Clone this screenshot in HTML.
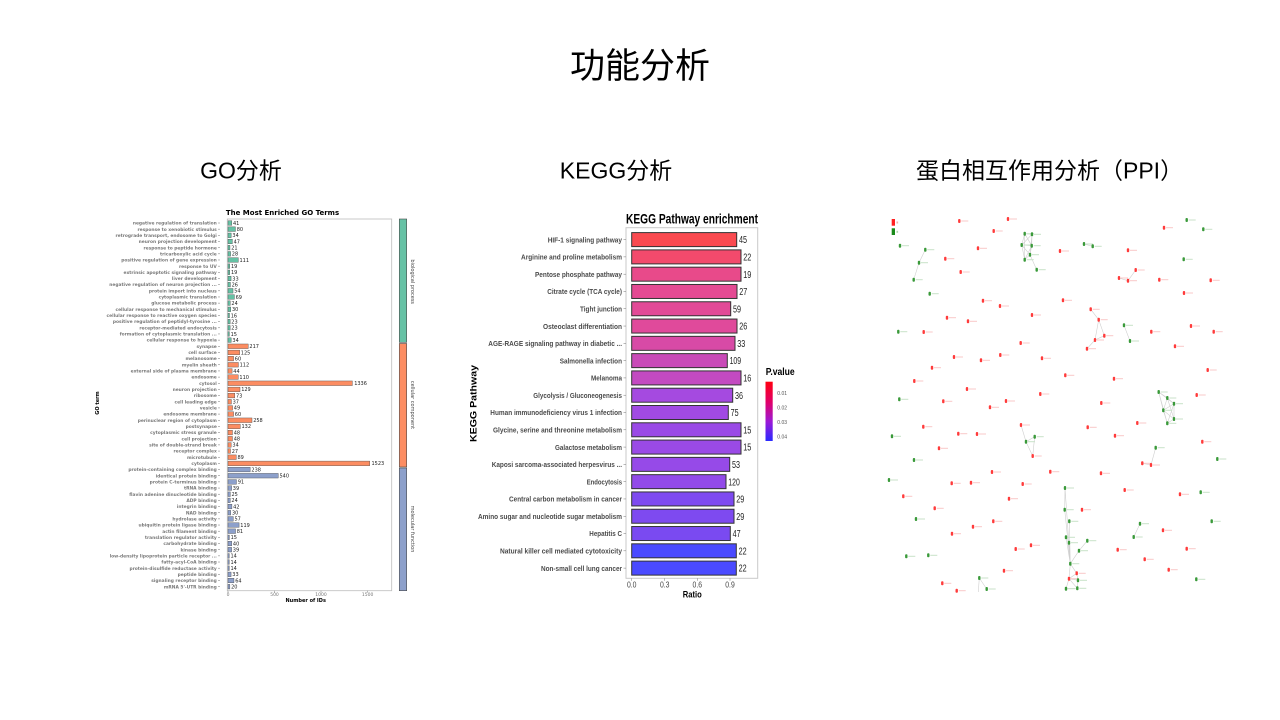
<!DOCTYPE html>
<html><head><meta charset="utf-8"><style>
html,body{margin:0;padding:0;background:#fff;}
body{width:1280px;height:720px;overflow:hidden;}
svg{display:block;}
.cjk{font-family:"Liberation Sans","Noto Sans CJK SC",sans-serif;fill:#000;}
.gl{font-family:"DejaVu Sans","Liberation Sans",sans-serif;font-weight:bold;font-size:4.4px;fill:#7a7a7a;text-anchor:end;}
.gv{font-family:"DejaVu Sans","Liberation Sans",sans-serif;font-size:5px;fill:#222;}
.b1{fill:#66c2a5;stroke:#4a4a4a;stroke-width:0.4;}
.b2{fill:#fc8d62;stroke:#4a4a4a;stroke-width:0.4;}
.b3{fill:#8da0cb;stroke:#4a4a4a;stroke-width:0.4;}
.tk{stroke:#777;stroke-width:0.5;}
.kl{font-family:"Liberation Sans",sans-serif;font-weight:bold;font-size:7.5px;fill:#4a4a4a;text-anchor:end;}
.kv{font-family:"Liberation Sans",sans-serif;font-size:10px;fill:#222;}
.kb{stroke:#333;stroke-width:1;}
.ed{stroke:#cfcfcf;stroke-width:0.6;fill:none;}
</style></head><body>
<svg width="1280" height="720" viewBox="0 0 1280 720" xmlns="http://www.w3.org/2000/svg">
<defs>
<linearGradient id="pg" x1="0" y1="0" x2="0" y2="1">
<stop offset="0" stop-color="#ff0010"/><stop offset="0.35" stop-color="#e0006a"/><stop offset="0.68" stop-color="#9a1ad8"/><stop offset="1" stop-color="#2a2aff"/>
</linearGradient>
<g id="R"><rect x="-1.2" y="-2" width="2.4" height="4" rx="1" fill="#ff3b3b"/><rect x="2" y="-0.5" width="7" height="1" fill="#f8c8c8"/></g>
<g id="G"><rect x="-1.2" y="-2" width="2.4" height="4" rx="1" fill="#3a9a3a"/><rect x="2" y="-0.5" width="7" height="1" fill="#c8e2c8"/></g>
</defs>
<rect width="1280" height="720" fill="#fff"/>

<!-- Titles -->
<text class="cjk" x="640" y="78" font-size="35" text-anchor="middle">功能分析</text>
<text class="cjk" x="241" y="178.5" font-size="23" text-anchor="middle">GO分析</text>
<text class="cjk" x="616" y="178.5" font-size="23" text-anchor="middle">KEGG分析</text>
<text class="cjk" x="916" y="178.5" font-size="23">蛋白相互作用分析（PPI）</text>

<!-- ================= GO chart ================= -->
<text x="282.5" y="215" font-family="DejaVu Sans, Liberation Sans, sans-serif" font-weight="bold" font-size="7" text-anchor="middle" fill="#000">The Most Enriched GO Terms</text>
<rect x="227.3" y="219" width="164.4" height="371.7" fill="none" stroke="#bdbdbd" stroke-width="0.8"/>
<g>
<g transform="translate(0,223)"><text class="gl" x="216.8" y="1.6">negative regulation of translation</text><path class="tk" d="M218 0h2"/><rect class="b1" x="228" y="-2.3" width="3.82" height="4.6"/><text class="gv" x="233" y="1.8">41</text></g>
<g transform="translate(0,229.16)"><text class="gl" x="216.8" y="1.6">response to xenobiotic stimulus</text><path class="tk" d="M218 0h2"/><rect class="b1" x="228" y="-2.3" width="7.45" height="4.6"/><text class="gv" x="236.7" y="1.8">80</text></g>
<g transform="translate(0,235.33)"><text class="gl" x="216.8" y="1.6">retrograde transport, endosome to Golgi</text><path class="tk" d="M218 0h2"/><rect class="b1" x="228" y="-2.3" width="3.17" height="4.6"/><text class="gv" x="232.4" y="1.8">34</text></g>
<g transform="translate(0,241.49)"><text class="gl" x="216.8" y="1.6">neuron projection development</text><path class="tk" d="M218 0h2"/><rect class="b1" x="228" y="-2.3" width="4.38" height="4.6"/><text class="gv" x="233.6" y="1.8">47</text></g>
<g transform="translate(0,247.66)"><text class="gl" x="216.8" y="1.6">response to peptide hormone</text><path class="tk" d="M218 0h2"/><rect class="b1" x="228" y="-2.3" width="1.96" height="4.6"/><text class="gv" x="231.2" y="1.8">21</text></g>
<g transform="translate(0,253.82)"><text class="gl" x="216.8" y="1.6">tricarboxylic acid cycle</text><path class="tk" d="M218 0h2"/><rect class="b1" x="228" y="-2.3" width="2.61" height="4.6"/><text class="gv" x="231.8" y="1.8">28</text></g>
<g transform="translate(0,259.98)"><text class="gl" x="216.8" y="1.6">positive regulation of gene expression</text><path class="tk" d="M218 0h2"/><rect class="b1" x="228" y="-2.3" width="10.33" height="4.6"/><text class="gv" x="239.5" y="1.8">111</text></g>
<g transform="translate(0,266.15)"><text class="gl" x="216.8" y="1.6">response to UV</text><path class="tk" d="M218 0h2"/><rect class="b1" x="228" y="-2.3" width="1.77" height="4.6"/><text class="gv" x="231" y="1.8">19</text></g>
<g transform="translate(0,272.31)"><text class="gl" x="216.8" y="1.6">extrinsic apoptotic signaling pathway</text><path class="tk" d="M218 0h2"/><rect class="b1" x="228" y="-2.3" width="1.77" height="4.6"/><text class="gv" x="231" y="1.8">19</text></g>
<g transform="translate(0,278.48)"><text class="gl" x="216.8" y="1.6">liver development</text><path class="tk" d="M218 0h2"/><rect class="b1" x="228" y="-2.3" width="3.07" height="4.6"/><text class="gv" x="232.3" y="1.8">33</text></g>
<g transform="translate(0,284.64)"><text class="gl" x="216.8" y="1.6">negative regulation of neuron projection ...</text><path class="tk" d="M218 0h2"/><rect class="b1" x="228" y="-2.3" width="2.42" height="4.6"/><text class="gv" x="231.6" y="1.8">26</text></g>
<g transform="translate(0,290.8)"><text class="gl" x="216.8" y="1.6">protein import into nucleus</text><path class="tk" d="M218 0h2"/><rect class="b1" x="228" y="-2.3" width="5.03" height="4.6"/><text class="gv" x="234.2" y="1.8">54</text></g>
<g transform="translate(0,296.97)"><text class="gl" x="216.8" y="1.6">cytoplasmic translation</text><path class="tk" d="M218 0h2"/><rect class="b1" x="228" y="-2.3" width="6.42" height="4.6"/><text class="gv" x="235.6" y="1.8">69</text></g>
<g transform="translate(0,303.13)"><text class="gl" x="216.8" y="1.6">glucose metabolic process</text><path class="tk" d="M218 0h2"/><rect class="b1" x="228" y="-2.3" width="2.23" height="4.6"/><text class="gv" x="231.4" y="1.8">24</text></g>
<g transform="translate(0,309.3)"><text class="gl" x="216.8" y="1.6">cellular response to mechanical stimulus</text><path class="tk" d="M218 0h2"/><rect class="b1" x="228" y="-2.3" width="2.79" height="4.6"/><text class="gv" x="232" y="1.8">30</text></g>
<g transform="translate(0,315.46)"><text class="gl" x="216.8" y="1.6">cellular response to reactive oxygen species</text><path class="tk" d="M218 0h2"/><rect class="b1" x="228" y="-2.3" width="1.49" height="4.6"/><text class="gv" x="230.7" y="1.8">16</text></g>
<g transform="translate(0,321.62)"><text class="gl" x="216.8" y="1.6">positive regulation of peptidyl-tyrosine ...</text><path class="tk" d="M218 0h2"/><rect class="b1" x="228" y="-2.3" width="2.14" height="4.6"/><text class="gv" x="231.3" y="1.8">23</text></g>
<g transform="translate(0,327.79)"><text class="gl" x="216.8" y="1.6">receptor-mediated endocytosis</text><path class="tk" d="M218 0h2"/><rect class="b1" x="228" y="-2.3" width="2.14" height="4.6"/><text class="gv" x="231.3" y="1.8">23</text></g>
<g transform="translate(0,333.95)"><text class="gl" x="216.8" y="1.6">formation of cytoplasmic translation ...</text><path class="tk" d="M218 0h2"/><rect class="b1" x="228" y="-2.3" width="1.4" height="4.6"/><text class="gv" x="230.6" y="1.8">15</text></g>
<g transform="translate(0,340.12)"><text class="gl" x="216.8" y="1.6">cellular response to hypoxia</text><path class="tk" d="M218 0h2"/><rect class="b1" x="228" y="-2.3" width="3.17" height="4.6"/><text class="gv" x="232.4" y="1.8">34</text></g>

<g transform="translate(0,346.28)"><text class="gl" x="216.8" y="1.6">synapse</text><path class="tk" d="M218 0h2"/><rect class="b2" x="228" y="-2.3" width="20.2" height="4.6"/><text class="gv" x="249.4" y="1.8">217</text></g>
<g transform="translate(0,352.44)"><text class="gl" x="216.8" y="1.6">cell surface</text><path class="tk" d="M218 0h2"/><rect class="b2" x="228" y="-2.3" width="11.64" height="4.6"/><text class="gv" x="240.8" y="1.8">125</text></g>
<g transform="translate(0,358.61)"><text class="gl" x="216.8" y="1.6">melanosome</text><path class="tk" d="M218 0h2"/><rect class="b2" x="228" y="-2.3" width="5.59" height="4.6"/><text class="gv" x="234.8" y="1.8">60</text></g>
<g transform="translate(0,364.77)"><text class="gl" x="216.8" y="1.6">myelin sheath</text><path class="tk" d="M218 0h2"/><rect class="b2" x="228" y="-2.3" width="10.43" height="4.6"/><text class="gv" x="239.6" y="1.8">112</text></g>
<g transform="translate(0,370.94)"><text class="gl" x="216.8" y="1.6">external side of plasma membrane</text><path class="tk" d="M218 0h2"/><rect class="b2" x="228" y="-2.3" width="4.1" height="4.6"/><text class="gv" x="233.3" y="1.8">44</text></g>
<g transform="translate(0,377.1)"><text class="gl" x="216.8" y="1.6">endosome</text><path class="tk" d="M218 0h2"/><rect class="b2" x="228" y="-2.3" width="10.24" height="4.6"/><text class="gv" x="239.4" y="1.8">110</text></g>
<g transform="translate(0,383.26)"><text class="gl" x="216.8" y="1.6">cytosol</text><path class="tk" d="M218 0h2"/><rect class="b2" x="228" y="-2.3" width="124.38" height="4.6"/><text class="gv" x="354.2" y="1.8">1336</text></g>
<g transform="translate(0,389.43)"><text class="gl" x="216.8" y="1.6">neuron projection</text><path class="tk" d="M218 0h2"/><rect class="b2" x="228" y="-2.3" width="12.01" height="4.6"/><text class="gv" x="241.2" y="1.8">129</text></g>
<g transform="translate(0,395.59)"><text class="gl" x="216.8" y="1.6">ribosome</text><path class="tk" d="M218 0h2"/><rect class="b2" x="228" y="-2.3" width="6.8" height="4.6"/><text class="gv" x="236" y="1.8">73</text></g>
<g transform="translate(0,401.76)"><text class="gl" x="216.8" y="1.6">cell leading edge</text><path class="tk" d="M218 0h2"/><rect class="b2" x="228" y="-2.3" width="3.44" height="4.6"/><text class="gv" x="232.6" y="1.8">37</text></g>
<g transform="translate(0,407.92)"><text class="gl" x="216.8" y="1.6">vesicle</text><path class="tk" d="M218 0h2"/><rect class="b2" x="228" y="-2.3" width="4.56" height="4.6"/><text class="gv" x="233.8" y="1.8">49</text></g>
<g transform="translate(0,414.08)"><text class="gl" x="216.8" y="1.6">endosome membrane</text><path class="tk" d="M218 0h2"/><rect class="b2" x="228" y="-2.3" width="5.59" height="4.6"/><text class="gv" x="234.8" y="1.8">60</text></g>
<g transform="translate(0,420.25)"><text class="gl" x="216.8" y="1.6">perinuclear region of cytoplasm</text><path class="tk" d="M218 0h2"/><rect class="b2" x="228" y="-2.3" width="24.02" height="4.6"/><text class="gv" x="253.2" y="1.8">258</text></g>
<g transform="translate(0,426.41)"><text class="gl" x="216.8" y="1.6">postsynapse</text><path class="tk" d="M218 0h2"/><rect class="b2" x="228" y="-2.3" width="12.29" height="4.6"/><text class="gv" x="241.5" y="1.8">132</text></g>
<g transform="translate(0,432.58)"><text class="gl" x="216.8" y="1.6">cytoplasmic stress granule</text><path class="tk" d="M218 0h2"/><rect class="b2" x="228" y="-2.3" width="4.47" height="4.6"/><text class="gv" x="233.7" y="1.8">48</text></g>
<g transform="translate(0,438.74)"><text class="gl" x="216.8" y="1.6">cell projection</text><path class="tk" d="M218 0h2"/><rect class="b2" x="228" y="-2.3" width="4.47" height="4.6"/><text class="gv" x="233.7" y="1.8">48</text></g>
<g transform="translate(0,444.9)"><text class="gl" x="216.8" y="1.6">site of double-strand break</text><path class="tk" d="M218 0h2"/><rect class="b2" x="228" y="-2.3" width="3.17" height="4.6"/><text class="gv" x="232.4" y="1.8">34</text></g>
<g transform="translate(0,451.07)"><text class="gl" x="216.8" y="1.6">receptor complex</text><path class="tk" d="M218 0h2"/><rect class="b2" x="228" y="-2.3" width="2.51" height="4.6"/><text class="gv" x="231.7" y="1.8">27</text></g>
<g transform="translate(0,457.23)"><text class="gl" x="216.8" y="1.6">microtubule</text><path class="tk" d="M218 0h2"/><rect class="b2" x="228" y="-2.3" width="8.29" height="4.6"/><text class="gv" x="237.5" y="1.8">89</text></g>
<g transform="translate(0,463.4)"><text class="gl" x="216.8" y="1.6">cytoplasm</text><path class="tk" d="M218 0h2"/><rect class="b2" x="228" y="-2.3" width="141.79" height="4.6"/><text class="gv" x="371.5" y="1.8">1523</text></g>

<g transform="translate(0,469.56)"><text class="gl" x="216.8" y="1.6">protein-containing complex binding</text><path class="tk" d="M218 0h2"/><rect class="b3" x="228" y="-2.3" width="22.16" height="4.6"/><text class="gv" x="251.4" y="1.8">238</text></g>
<g transform="translate(0,475.72)"><text class="gl" x="216.8" y="1.6">identical protein binding</text><path class="tk" d="M218 0h2"/><rect class="b3" x="228" y="-2.3" width="50.27" height="4.6"/><text class="gv" x="279.5" y="1.8">540</text></g>
<g transform="translate(0,481.89)"><text class="gl" x="216.8" y="1.6">protein C-terminus binding</text><path class="tk" d="M218 0h2"/><rect class="b3" x="228" y="-2.3" width="8.47" height="4.6"/><text class="gv" x="237.7" y="1.8">91</text></g>
<g transform="translate(0,488.05)"><text class="gl" x="216.8" y="1.6">tRNA binding</text><path class="tk" d="M218 0h2"/><rect class="b3" x="228" y="-2.3" width="3.63" height="4.6"/><text class="gv" x="232.8" y="1.8">39</text></g>
<g transform="translate(0,494.22)"><text class="gl" x="216.8" y="1.6">flavin adenine dinucleotide binding</text><path class="tk" d="M218 0h2"/><rect class="b3" x="228" y="-2.3" width="2.33" height="4.6"/><text class="gv" x="231.5" y="1.8">25</text></g>
<g transform="translate(0,500.38)"><text class="gl" x="216.8" y="1.6">ADP binding</text><path class="tk" d="M218 0h2"/><rect class="b3" x="228" y="-2.3" width="2.23" height="4.6"/><text class="gv" x="231.4" y="1.8">24</text></g>
<g transform="translate(0,506.54)"><text class="gl" x="216.8" y="1.6">integrin binding</text><path class="tk" d="M218 0h2"/><rect class="b3" x="228" y="-2.3" width="3.91" height="4.6"/><text class="gv" x="233.1" y="1.8">42</text></g>
<g transform="translate(0,512.71)"><text class="gl" x="216.8" y="1.6">NAD binding</text><path class="tk" d="M218 0h2"/><rect class="b3" x="228" y="-2.3" width="2.79" height="4.6"/><text class="gv" x="232" y="1.8">30</text></g>
<g transform="translate(0,518.87)"><text class="gl" x="216.8" y="1.6">hydrolase activity</text><path class="tk" d="M218 0h2"/><rect class="b3" x="228" y="-2.3" width="5.31" height="4.6"/><text class="gv" x="234.5" y="1.8">57</text></g>
<g transform="translate(0,525.04)"><text class="gl" x="216.8" y="1.6">ubiquitin protein ligase binding</text><path class="tk" d="M218 0h2"/><rect class="b3" x="228" y="-2.3" width="11.08" height="4.6"/><text class="gv" x="240.3" y="1.8">119</text></g>
<g transform="translate(0,531.2)"><text class="gl" x="216.8" y="1.6">actin filament binding</text><path class="tk" d="M218 0h2"/><rect class="b3" x="228" y="-2.3" width="7.54" height="4.6"/><text class="gv" x="236.7" y="1.8">81</text></g>
<g transform="translate(0,537.36)"><text class="gl" x="216.8" y="1.6">translation regulator activity</text><path class="tk" d="M218 0h2"/><rect class="b3" x="228" y="-2.3" width="1.4" height="4.6"/><text class="gv" x="230.6" y="1.8">15</text></g>
<g transform="translate(0,543.53)"><text class="gl" x="216.8" y="1.6">carbohydrate binding</text><path class="tk" d="M218 0h2"/><rect class="b3" x="228" y="-2.3" width="3.72" height="4.6"/><text class="gv" x="232.9" y="1.8">40</text></g>
<g transform="translate(0,549.69)"><text class="gl" x="216.8" y="1.6">kinase binding</text><path class="tk" d="M218 0h2"/><rect class="b3" x="228" y="-2.3" width="3.63" height="4.6"/><text class="gv" x="232.8" y="1.8">39</text></g>
<g transform="translate(0,555.86)"><text class="gl" x="216.8" y="1.6">low-density lipoprotein particle receptor ...</text><path class="tk" d="M218 0h2"/><rect class="b3" x="228" y="-2.3" width="1.3" height="4.6"/><text class="gv" x="230.5" y="1.8">14</text></g>
<g transform="translate(0,562.02)"><text class="gl" x="216.8" y="1.6">fatty-acyl-CoA binding</text><path class="tk" d="M218 0h2"/><rect class="b3" x="228" y="-2.3" width="1.3" height="4.6"/><text class="gv" x="230.5" y="1.8">14</text></g>
<g transform="translate(0,568.18)"><text class="gl" x="216.8" y="1.6">protein-disulfide reductase activity</text><path class="tk" d="M218 0h2"/><rect class="b3" x="228" y="-2.3" width="1.3" height="4.6"/><text class="gv" x="230.5" y="1.8">14</text></g>
<g transform="translate(0,574.35)"><text class="gl" x="216.8" y="1.6">peptide binding</text><path class="tk" d="M218 0h2"/><rect class="b3" x="228" y="-2.3" width="3.07" height="4.6"/><text class="gv" x="232.3" y="1.8">33</text></g>
<g transform="translate(0,580.51)"><text class="gl" x="216.8" y="1.6">signaling receptor binding</text><path class="tk" d="M218 0h2"/><rect class="b3" x="228" y="-2.3" width="5.96" height="4.6"/><text class="gv" x="235.2" y="1.8">64</text></g>
<g transform="translate(0,586.68)"><text class="gl" x="216.8" y="1.6">mRNA 5'-UTR binding</text><path class="tk" d="M218 0h2"/><rect class="b3" x="228" y="-2.3" width="1.86" height="4.6"/><text class="gv" x="231.1" y="1.8">20</text></g>
</g>
<!-- GO x axis -->
<path class="tk" d="M228 590.7v2M274.5 590.7v2M321 590.7v2M367.6 590.7v2"/>
<g font-family="DejaVu Sans, Liberation Sans, sans-serif" font-size="4.5" fill="#777" text-anchor="middle">
<text x="228" y="596">0</text><text x="274.5" y="596">500</text><text x="321" y="596">1000</text><text x="367.6" y="596">1500</text>
</g>
<text x="305.7" y="602" font-family="DejaVu Sans, Liberation Sans, sans-serif" font-size="5" font-weight="bold" text-anchor="middle" fill="#000">Number of IDs</text>
<text transform="translate(99,403) rotate(-90)" font-family="DejaVu Sans, Liberation Sans, sans-serif" font-size="5" font-weight="bold" text-anchor="middle" fill="#000">GO term</text>
<!-- category strip -->
<rect x="399.3" y="219" width="7.4" height="123.3" fill="#66c2a5" stroke="#4a4a4a" stroke-width="0.6"/>
<rect x="399.3" y="343.5" width="7.4" height="123.5" fill="#fc8d62" stroke="#4a4a4a" stroke-width="0.6"/>
<rect x="399.3" y="468" width="7.4" height="122.7" fill="#8da0cb" stroke="#4a4a4a" stroke-width="0.6"/>
<g font-family="DejaVu Sans, Liberation Sans, sans-serif" font-size="5" fill="#444" text-anchor="middle">
<text transform="translate(410.8,281.7) rotate(90)">biological process</text>
<text transform="translate(410.8,405) rotate(90)">cellular component</text>
<text transform="translate(410.8,529) rotate(90)">molecular function</text>
</g>

<!-- ================= KEGG chart ================= -->
<text x="626" y="223.3" font-family="Liberation Sans, sans-serif" font-weight="bold" font-size="13.5" fill="#000" textLength="132" lengthAdjust="spacingAndGlyphs">KEGG Pathway enrichment</text>
<rect x="626" y="227.7" width="131.7" height="350.6" fill="none" stroke="#cacaca" stroke-width="1"/>
<g transform="translate(0,239.6)"><text class="kl" x="622" y="2.7" textLength="74.3" lengthAdjust="spacingAndGlyphs">HIF-1 signaling pathway</text><path class="tk" d="M623.5 0h2.5"/><rect class="kb" x="631.7" y="-7" width="105" height="14" fill="#fa4a50"/><text class="kv" x="739" y="3.6" textLength="8" lengthAdjust="spacingAndGlyphs">45</text></g>
<g transform="translate(0,256.89)"><text class="kl" x="622" y="2.7" textLength="101" lengthAdjust="spacingAndGlyphs">Arginine and proline metabolism</text><path class="tk" d="M623.5 0h2.5"/><rect class="kb" x="631.7" y="-7" width="109.3" height="14" fill="#f34a6c"/><text class="kv" x="743.3" y="3.6" textLength="8" lengthAdjust="spacingAndGlyphs">22</text></g>
<g transform="translate(0,274.18)"><text class="kl" x="622" y="2.7" textLength="87" lengthAdjust="spacingAndGlyphs">Pentose phosphate pathway</text><path class="tk" d="M623.5 0h2.5"/><rect class="kb" x="631.7" y="-7" width="109.3" height="14" fill="#e84a8a"/><text class="kv" x="743.3" y="3.6" textLength="8" lengthAdjust="spacingAndGlyphs">19</text></g>
<g transform="translate(0,291.47)"><text class="kl" x="622" y="2.7" textLength="74.7" lengthAdjust="spacingAndGlyphs">Citrate cycle (TCA cycle)</text><path class="tk" d="M623.5 0h2.5"/><rect class="kb" x="631.7" y="-7" width="105.3" height="14" fill="#e44a93"/><text class="kv" x="739.3" y="3.6" textLength="8" lengthAdjust="spacingAndGlyphs">27</text></g>
<g transform="translate(0,308.76)"><text class="kl" x="622" y="2.7" textLength="42" lengthAdjust="spacingAndGlyphs">Tight junction</text><path class="tk" d="M623.5 0h2.5"/><rect class="kb" x="631.7" y="-7" width="99" height="14" fill="#e24a97"/><text class="kv" x="733" y="3.6" textLength="8" lengthAdjust="spacingAndGlyphs">59</text></g>
<g transform="translate(0,326.05)"><text class="kl" x="622" y="2.7" textLength="79" lengthAdjust="spacingAndGlyphs">Osteoclast differentiation</text><path class="tk" d="M623.5 0h2.5"/><rect class="kb" x="631.7" y="-7" width="105.3" height="14" fill="#e04a9b"/><text class="kv" x="739.3" y="3.6" textLength="8" lengthAdjust="spacingAndGlyphs">26</text></g>
<g transform="translate(0,343.34)"><text class="kl" x="622" y="2.7" textLength="133.7" lengthAdjust="spacingAndGlyphs">AGE-RAGE signaling pathway in diabetic ...</text><path class="tk" d="M623.5 0h2.5"/><rect class="kb" x="631.7" y="-7" width="103.3" height="14" fill="#d84aa6"/><text class="kv" x="737.3" y="3.6" textLength="8" lengthAdjust="spacingAndGlyphs">33</text></g>
<g transform="translate(0,360.63)"><text class="kl" x="622" y="2.7" textLength="62.3" lengthAdjust="spacingAndGlyphs">Salmonella infection</text><path class="tk" d="M623.5 0h2.5"/><rect class="kb" x="631.7" y="-7" width="95.6" height="14" fill="#c94ab8"/><text class="kv" x="729.6" y="3.6" textLength="11.5" lengthAdjust="spacingAndGlyphs">109</text></g>
<g transform="translate(0,377.92)"><text class="kl" x="622" y="2.7" textLength="31" lengthAdjust="spacingAndGlyphs">Melanoma</text><path class="tk" d="M623.5 0h2.5"/><rect class="kb" x="631.7" y="-7" width="109.3" height="14" fill="#c34ac1"/><text class="kv" x="743.3" y="3.6" textLength="8" lengthAdjust="spacingAndGlyphs">16</text></g>
<g transform="translate(0,395.21)"><text class="kl" x="622" y="2.7" textLength="88.7" lengthAdjust="spacingAndGlyphs">Glycolysis / Gluconeogenesis</text><path class="tk" d="M623.5 0h2.5"/><rect class="kb" x="631.7" y="-7" width="101" height="14" fill="#a54ae0"/><text class="kv" x="735" y="3.6" textLength="8" lengthAdjust="spacingAndGlyphs">36</text></g>
<g transform="translate(0,412.5)"><text class="kl" x="622" y="2.7" textLength="131.7" lengthAdjust="spacingAndGlyphs">Human immunodeficiency virus 1 infection</text><path class="tk" d="M623.5 0h2.5"/><rect class="kb" x="631.7" y="-7" width="96.6" height="14" fill="#a14ae3"/><text class="kv" x="730.6" y="3.6" textLength="8" lengthAdjust="spacingAndGlyphs">75</text></g>
<g transform="translate(0,429.79)"><text class="kl" x="622" y="2.7" textLength="129" lengthAdjust="spacingAndGlyphs">Glycine, serine and threonine metabolism</text><path class="tk" d="M623.5 0h2.5"/><rect class="kb" x="631.7" y="-7" width="109.3" height="14" fill="#9a4ae6"/><text class="kv" x="743.3" y="3.6" textLength="8" lengthAdjust="spacingAndGlyphs">15</text></g>
<g transform="translate(0,447.08)"><text class="kl" x="622" y="2.7" textLength="67" lengthAdjust="spacingAndGlyphs">Galactose metabolism</text><path class="tk" d="M623.5 0h2.5"/><rect class="kb" x="631.7" y="-7" width="109.3" height="14" fill="#9a4ae6"/><text class="kv" x="743.3" y="3.6" textLength="8" lengthAdjust="spacingAndGlyphs">15</text></g>
<g transform="translate(0,464.37)"><text class="kl" x="622" y="2.7" textLength="130.3" lengthAdjust="spacingAndGlyphs">Kaposi sarcoma-associated herpesvirus ...</text><path class="tk" d="M623.5 0h2.5"/><rect class="kb" x="631.7" y="-7" width="98" height="14" fill="#964ae8"/><text class="kv" x="732" y="3.6" textLength="8" lengthAdjust="spacingAndGlyphs">53</text></g>
<g transform="translate(0,481.66)"><text class="kl" x="622" y="2.7" textLength="35.3" lengthAdjust="spacingAndGlyphs">Endocytosis</text><path class="tk" d="M623.5 0h2.5"/><rect class="kb" x="631.7" y="-7" width="94.3" height="14" fill="#924ae9"/><text class="kv" x="728.3" y="3.6" textLength="11.5" lengthAdjust="spacingAndGlyphs">120</text></g>
<g transform="translate(0,498.95)"><text class="kl" x="622" y="2.7" textLength="113" lengthAdjust="spacingAndGlyphs">Central carbon metabolism in cancer</text><path class="tk" d="M623.5 0h2.5"/><rect class="kb" x="631.7" y="-7" width="102.3" height="14" fill="#7e4af0"/><text class="kv" x="736.3" y="3.6" textLength="8" lengthAdjust="spacingAndGlyphs">29</text></g>
<g transform="translate(0,516.24)"><text class="kl" x="622" y="2.7" textLength="144" lengthAdjust="spacingAndGlyphs">Amino sugar and nucleotide sugar metabolism</text><path class="tk" d="M623.5 0h2.5"/><rect class="kb" x="631.7" y="-7" width="102.3" height="14" fill="#7e4af0"/><text class="kv" x="736.3" y="3.6" textLength="8" lengthAdjust="spacingAndGlyphs">29</text></g>
<g transform="translate(0,533.53)"><text class="kl" x="622" y="2.7" textLength="32.7" lengthAdjust="spacingAndGlyphs">Hepatitis C</text><path class="tk" d="M623.5 0h2.5"/><rect class="kb" x="631.7" y="-7" width="98.6" height="14" fill="#7a4af1"/><text class="kv" x="732.6" y="3.6" textLength="8" lengthAdjust="spacingAndGlyphs">47</text></g>
<g transform="translate(0,550.82)"><text class="kl" x="622" y="2.7" textLength="122" lengthAdjust="spacingAndGlyphs">Natural killer cell mediated cytotoxicity</text><path class="tk" d="M623.5 0h2.5"/><rect class="kb" x="631.7" y="-7" width="104.6" height="14" fill="#4a4aff"/><text class="kv" x="738.6" y="3.6" textLength="8" lengthAdjust="spacingAndGlyphs">22</text></g>
<g transform="translate(0,568.11)"><text class="kl" x="622" y="2.7" textLength="81" lengthAdjust="spacingAndGlyphs">Non-small cell lung cancer</text><path class="tk" d="M623.5 0h2.5"/><rect class="kb" x="631.7" y="-7" width="104.6" height="14" fill="#4a4aff"/><text class="kv" x="738.6" y="3.6" textLength="8" lengthAdjust="spacingAndGlyphs">22</text></g>
<!-- KEGG x axis -->
<path class="tk" d="M631.7 578.3v2.5M664.7 578.3v2.5M697.3 578.3v2.5M730 578.3v2.5"/>
<g font-family="Liberation Sans, sans-serif" font-size="8" fill="#444" text-anchor="middle">
<text x="631.7" y="587.5" textLength="9.5" lengthAdjust="spacingAndGlyphs">0.0</text>
<text x="664.7" y="587.5" textLength="9.5" lengthAdjust="spacingAndGlyphs">0.3</text>
<text x="697.3" y="587.5" textLength="9.5" lengthAdjust="spacingAndGlyphs">0.6</text>
<text x="730" y="587.5" textLength="9.5" lengthAdjust="spacingAndGlyphs">0.9</text>
</g>
<text x="692.3" y="597.3" font-family="Liberation Sans, sans-serif" font-weight="bold" font-size="9.5" text-anchor="middle" fill="#000" textLength="19" lengthAdjust="spacingAndGlyphs">Ratio</text>
<text transform="translate(476.5,403.5) rotate(-90)" font-family="Liberation Sans, sans-serif" font-weight="bold" font-size="9.5" text-anchor="middle" fill="#000" textLength="77" lengthAdjust="spacingAndGlyphs">KEGG Pathway</text>
<!-- legend -->
<text x="765.7" y="375" font-family="Liberation Sans, sans-serif" font-weight="bold" font-size="10" fill="#000" textLength="29" lengthAdjust="spacingAndGlyphs">P.value</text>
<rect x="765.5" y="381.7" width="7.2" height="59.3" fill="url(#pg)"/>
<g font-family="Liberation Sans, sans-serif" font-size="5" fill="#555">
<text x="777.3" y="395">0.01</text><text x="777.3" y="409.5">0.02</text><text x="777.3" y="424">0.03</text><text x="777.3" y="438.7">0.04</text>
</g>

<!-- ================= PPI network ================= -->
<rect x="891.7" y="219" width="3.3" height="6.7" fill="#ff2020"/>
<rect x="891.7" y="228.3" width="3.3" height="6.7" fill="#1a8a1a"/>
<rect x="896.5" y="221.5" width="1.6" height="2" fill="#f0b0b0"/>
<rect x="896.5" y="230.8" width="1.6" height="2" fill="#b0d8b0"/>
<path class="ed" d="M925.3 249.7L919 262.7L913.7 279.7
M1024.7 233.7L1032 234.3 M1024.7 233.7L1021.7 245 M1024.7 233.7L1031.7 245.7 M1032 234.3L1021.7 245 M1032 234.3L1031.7 245.7 M1021.7 245L1031.7 245.7 M1021.7 245L1030 254.7 M1021.7 245L1024.7 259.7 M1031.7 245.7L1030 254.7 M1031.7 245.7L1024.7 259.7 M1030 254.7L1024.7 259.7 M1024.7 233.7L1024.7 259.7 M1032 234.3L1030 254.7 M1030 254.7L1036.7 269.7
M1084 244L1092.7 246.3
M1135.7 270L1128 280.7 M1119 278L1128 280.7
M1090.7 309.3L1098.7 319.7L1104.3 335.7L1095 340L1098.7 319.7 M1095 340L1087 348.7
M1124 325.3L1130 341
M1158.7 392L1167.3 398L1174 403.7L1174 419L1167.3 423.3L1163.3 410.3L1158.7 392 M1158.7 392L1174 403.7 M1167.3 398L1163.3 410.3 M1167.3 398L1174 419 M1163.3 410.3L1174 403.7 M1163.3 410.3L1174 419 M1174 403.7L1167.3 423.3 M1158.7 392L1167.3 423.3
M1021 425L1026 441.7L1034.7 436.7L1032.7 456L1026 441.7
M979.3 578L986.7 589 M979.3 578L978.3 592
M1155.7 447.7L1151 465 M1142.3 463.3L1151 465
M1140 523.7L1133.7 537
M1065 488L1064.7 509.7L1070.3 563.7 M1065 488L1070.3 563.7 M1069.3 521.3L1070.3 563.7 M1066 537.3L1070.3 563.7 M1069 542.7L1070.3 563.7 M1087.3 540.7L1079 550.7L1070.3 563.7 M1070.3 563.7L1076.7 573.3L1069 578.7L1070.3 563.7 M1069 578.7L1078 580.3 M1069 578.7L1066 588.7 M1069 578.7L1077.3 588.3 M1066 588.7L1077.3 588.3 M1078 580.3L1077.3 588.3 M1076.7 573.3L1078 580.3"/>
<g>
<use href="#G" x="900" y="245.7"/><use href="#R" x="959.3" y="221"/><use href="#R" x="1008" y="219"/><use href="#R" x="993.7" y="231"/><use href="#R" x="978" y="248.3"/>
<use href="#G" x="925.3" y="249.7"/><use href="#G" x="919" y="262.7"/><use href="#G" x="913.7" y="279.7"/><use href="#R" x="945.3" y="258.7"/><use href="#R" x="960.7" y="272"/>
<use href="#G" x="1024.7" y="233.7"/><use href="#G" x="1032" y="234.3"/><use href="#G" x="1021.7" y="245"/><use href="#G" x="1031.7" y="245.7"/><use href="#G" x="1030" y="254.7"/><use href="#G" x="1024.7" y="259.7"/><use href="#G" x="1036.7" y="269.7"/>
<use href="#G" x="929.7" y="293.7"/><use href="#R" x="983" y="300.7"/><use href="#R" x="1000" y="306"/><use href="#R" x="1032" y="315"/><use href="#R" x="947" y="317.7"/><use href="#R" x="968" y="321.3"/>
<use href="#G" x="898.3" y="331.7"/><use href="#R" x="923.7" y="332"/><use href="#R" x="1020.7" y="343"/><use href="#R" x="1000.3" y="355"/><use href="#R" x="954" y="357"/><use href="#R" x="981" y="360.3"/><use href="#R" x="1042" y="358.3"/>
<use href="#R" x="932" y="367.7"/><use href="#R" x="914.3" y="381"/><use href="#R" x="967" y="389"/><use href="#R" x="1040.3" y="394"/><use href="#G" x="899.3" y="399.3"/><use href="#R" x="943.3" y="401.3"/><use href="#R" x="1006" y="401"/>

<use href="#G" x="1186.7" y="220"/><use href="#R" x="1164" y="227.7"/><use href="#G" x="1203.3" y="229.3"/><use href="#G" x="1084" y="244"/><use href="#G" x="1092.7" y="246.3"/>
<use href="#R" x="1060" y="251"/><use href="#R" x="1128" y="250.3"/><use href="#G" x="1183.7" y="259.3"/><use href="#R" x="1135.7" y="270"/><use href="#R" x="1119" y="278"/><use href="#R" x="1128" y="280.7"/>
<use href="#R" x="1159.3" y="279.7"/><use href="#R" x="1210.7" y="280.3"/><use href="#R" x="1184" y="293"/><use href="#R" x="1063" y="300.3"/>
<use href="#R" x="1090.7" y="309.3"/><use href="#R" x="1098.7" y="319.7"/><use href="#R" x="1104.3" y="335.7"/><use href="#R" x="1095" y="340"/><use href="#R" x="1087" y="348.7"/>
<use href="#G" x="1124" y="325.3"/><use href="#G" x="1130" y="341"/><use href="#R" x="1151.3" y="331.7"/><use href="#R" x="1191" y="326"/><use href="#R" x="1213.7" y="331.7"/><use href="#R" x="1175" y="346.3"/>
<use href="#R" x="1207.7" y="370"/><use href="#R" x="1065.3" y="375.3"/><use href="#R" x="1114" y="378.7"/><use href="#R" x="1196.7" y="395"/>
<use href="#G" x="1158.7" y="392"/><use href="#G" x="1167.3" y="398"/><use href="#G" x="1174" y="403.7"/><use href="#R" x="1101.3" y="403"/>

<use href="#R" x="990" y="407.3"/><use href="#R" x="923.3" y="426.7"/><use href="#R" x="1021" y="425"/><use href="#G" x="1034.7" y="436.7"/><use href="#G" x="1026" y="441.7"/><use href="#R" x="1032.7" y="456"/>
<use href="#G" x="892" y="436.3"/><use href="#R" x="958.3" y="433.7"/><use href="#R" x="977" y="434"/><use href="#R" x="939" y="448.3"/><use href="#G" x="914" y="460"/>
<use href="#R" x="992" y="472"/><use href="#R" x="1050.3" y="471.7"/><use href="#G" x="889" y="480"/><use href="#R" x="951.7" y="483.3"/><use href="#R" x="971" y="482.7"/><use href="#R" x="1022.7" y="484"/>
<use href="#R" x="903.3" y="496.3"/><use href="#R" x="1009" y="498.7"/><use href="#R" x="934.7" y="508.3"/><use href="#G" x="916" y="519"/><use href="#R" x="993.3" y="521.3"/><use href="#R" x="973" y="526.7"/><use href="#R" x="952" y="533.7"/>
<use href="#R" x="1031" y="545.3"/><use href="#R" x="1015.7" y="549"/><use href="#G" x="906.3" y="556.3"/><use href="#G" x="928.3" y="555.3"/><use href="#R" x="1004" y="570.7"/>
<use href="#G" x="979.3" y="578"/><use href="#G" x="986.7" y="589"/><use href="#R" x="942.3" y="583.3"/><use href="#R" x="956.7" y="590.7"/>

<use href="#G" x="1163.3" y="410.3"/><use href="#G" x="1174" y="419"/><use href="#G" x="1167.3" y="423.3"/><use href="#R" x="1087.7" y="427.3"/><use href="#R" x="1137.3" y="423"/><use href="#R" x="1115" y="435.7"/><use href="#R" x="1202.3" y="441.7"/>
<use href="#G" x="1155.7" y="447.7"/><use href="#R" x="1142.3" y="463.3"/><use href="#R" x="1151" y="465"/><use href="#G" x="1217.3" y="459"/><use href="#R" x="1101" y="473.3"/>
<use href="#G" x="1065" y="488"/><use href="#R" x="1124.7" y="490"/><use href="#R" x="1180" y="494.3"/><use href="#G" x="1200.7" y="492.3"/>
<use href="#G" x="1064.7" y="509.7"/><use href="#R" x="1082" y="509.7"/><use href="#G" x="1069.3" y="521.3"/><use href="#G" x="1211.7" y="521.3"/><use href="#G" x="1140" y="523.7"/><use href="#G" x="1133.7" y="537"/>
<use href="#G" x="1066" y="537.3"/><use href="#G" x="1069" y="542.7"/><use href="#G" x="1087.3" y="540.7"/><use href="#G" x="1079" y="550.7"/>
<use href="#R" x="1163" y="530.3"/><use href="#R" x="1186.7" y="548.7"/><use href="#R" x="1117.7" y="549.7"/><use href="#R" x="1144.7" y="559.3"/><use href="#R" x="1168.7" y="569.7"/>
<use href="#G" x="1070.3" y="563.7"/><use href="#R" x="1076.7" y="573.3"/><use href="#R" x="1069" y="578.7"/><use href="#G" x="1078" y="580.3"/><use href="#G" x="1066" y="588.7"/><use href="#G" x="1077.3" y="588.3"/><use href="#G" x="1196.3" y="579.3"/>
</g>
</svg>
</body></html>
